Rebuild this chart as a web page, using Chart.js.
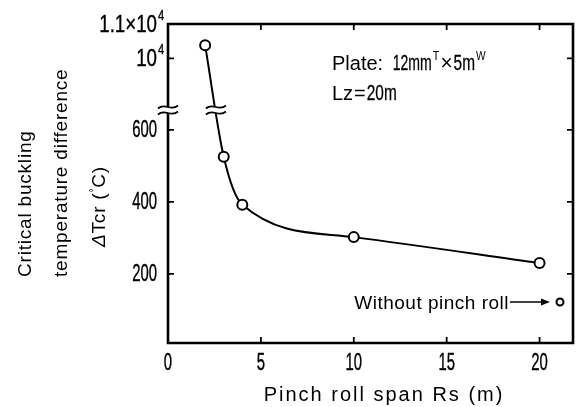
<!DOCTYPE html>
<html>
<head>
<meta charset="utf-8">
<script src="https://cdn.jsdelivr.net/npm/chart.js@4.4.1/dist/chart.umd.min.js"></script>
<style>
  html, body { margin: 0; background: #fff; }
  #wrap { width: 584px; height: 407px; }
</style>
</head>
<body>
<div id="wrap"><canvas id="chart"></canvas></div>
<script>
// pinch roll span (m) vs critical buckling temperature difference (°C)
const spanRs = [2, 3, 4, 10, 20];
const deltaTcr = [10380, 525, 392, 302, 230];
const noRollRs = [21.1];
const noRollTcr = [122];

const X_TICKS = [0, 5, 10, 15, 20];
const Y_TICKS = [200, 400, 600, 10000, 11000];
const Y_TICK_TEXT = ['200', '400', '600', '10', '1.1×10'];
const Y_TICK_EXP = ['', '', '', '4', '4'];

// the value axis is broken: a low band and a high band
const LOW_RANGE = [8, 655];
const HIGH_RANGE = [8500, 11000];
const LOW_SHARE = 0.7304;

const SANS = '"Liberation Sans", Arial, sans-serif';

class BrokenLinearScale extends Chart.LinearScale {
  splitPixel() {
    return this.bottom - LOW_SHARE * (this.bottom - this.top);
  }
  getPixelForValue(value) {
    const split = this.splitPixel();
    if (value <= LOW_RANGE[1]) {
      return this.bottom - (value - LOW_RANGE[0]) / (LOW_RANGE[1] - LOW_RANGE[0]) * (this.bottom - split);
    }
    if (value >= HIGH_RANGE[0]) {
      return split - (value - HIGH_RANGE[0]) / (HIGH_RANGE[1] - HIGH_RANGE[0]) * (split - this.top);
    }
    return split;
  }
  getValueForPixel(pixel) {
    const split = this.splitPixel();
    if (pixel >= split) {
      return LOW_RANGE[0] + (this.bottom - pixel) / (this.bottom - split) * (LOW_RANGE[1] - LOW_RANGE[0]);
    }
    return HIGH_RANGE[0] + (split - pixel) / (split - this.top) * (HIGH_RANGE[1] - HIGH_RANGE[0]);
  }
}
BrokenLinearScale.id = 'brokenLinear';
BrokenLinearScale.defaults = Chart.LinearScale.defaults;
Chart.register(BrokenLinearScale);

// squeezed text, the figure uses a narrow face for numbers
function narrowText(ctx, str, x, y, align, sx, heavy) {
  const w = ctx.measureText(str).width * sx;
  let left = x;
  if (align === 'right') left = x - w;
  else if (align === 'center') left = x - w / 2;
  ctx.save();
  ctx.translate(left, y);
  ctx.scale(sx, 1);
  ctx.textAlign = 'left';
  ctx.fillText(str, 0, 0);
  if (heavy) {
    ctx.lineWidth = heavy;
    ctx.strokeText(str, 0, 0);
  }
  ctx.restore();
  return left + w;
}

function drawBreak(ctx, x, y) {
  ctx.save();
  ctx.fillStyle = '#fff';
  ctx.fillRect(x - 10, y - 3, 20, 6);
  ctx.strokeStyle = '#000';
  ctx.lineWidth = 1.8;
  for (const dy of [-3, 3]) {
    const yy = y + dy;
    ctx.beginPath();
    ctx.moveTo(x - 10, yy + 1.5);
    ctx.bezierCurveTo(x - 3, yy - 5, x + 3, yy + 5, x + 10, yy - 1.5);
    ctx.stroke();
  }
  ctx.restore();
}

const NUM_FONT = '24px ' + SANS;
const NUM_SX = 0.62;
const NUM_HEAVY = 0.4;

const paperPlugin = {
  id: 'paper',
  beforeDatasetsDraw(chart) {
    const ctx = chart.ctx;
    const { left, right, top, bottom } = chart.chartArea;
    const xs = chart.scales.x;
    const ys = chart.scales.y;
    ctx.save();
    ctx.strokeStyle = '#000';
    ctx.fillStyle = '#000';
    ctx.lineWidth = 2.6;
    ctx.lineCap = 'square';
    ctx.beginPath();
    ctx.moveTo(left, top);
    ctx.lineTo(right, top);
    ctx.lineTo(right, bottom);
    ctx.lineTo(left, bottom);
    ctx.closePath();
    ctx.stroke();

    // inward ticks
    ctx.lineWidth = 1.8;
    ctx.lineCap = 'butt';
    ctx.beginPath();
    xs.ticks.forEach(t => {
      if (t.value === 0) return;
      const px = xs.getPixelForValue(t.value);
      ctx.moveTo(px, bottom);
      ctx.lineTo(px, bottom - 6);
      ctx.moveTo(px, top);
      ctx.lineTo(px, top + 6);
    });
    ys.ticks.forEach(t => {
      if (t.value === HIGH_RANGE[1]) return;
      const py = ys.getPixelForValue(t.value);
      ctx.moveTo(left, py);
      ctx.lineTo(left + 6, py);
      ctx.moveTo(right, py);
      ctx.lineTo(right - 6, py);
    });
    ctx.stroke();

    // tick labels
    ctx.font = NUM_FONT;
    ctx.textBaseline = 'middle';
    xs.ticks.forEach(t => {
      narrowText(ctx, String(t.value), xs.getPixelForValue(t.value), bottom + 20, 'center', NUM_SX, NUM_HEAVY);
    });
    ys.ticks.forEach((t, i) => {
      const py = ys.getPixelForValue(t.value);
      ctx.font = NUM_FONT;
      narrowText(ctx, Y_TICK_TEXT[i], left - 11, py + 1, 'right', Y_TICK_EXP[i] ? 0.78 : NUM_SX, NUM_HEAVY);
      if (Y_TICK_EXP[i]) {
        ctx.font = '14px ' + SANS;
        narrowText(ctx, Y_TICK_EXP[i], left - 10, py - 8, 'left', 0.8, 0.3);
      }
    });

    // axis titles
    ctx.font = '20px ' + SANS;
    ctx.letterSpacing = '2px';
    ctx.textAlign = 'center';
    ctx.textBaseline = 'alphabetic';
    ctx.fillText('Pinch roll span Rs (m)', 384, 401);

    ctx.font = '19px ' + SANS;
    ctx.letterSpacing = '0.8px';
    ctx.save();
    ctx.translate(0, 277);
    ctx.rotate(-Math.PI / 2);
    ctx.textAlign = 'left';
    ctx.fillText('Critical buckling', 0, 31);
    ctx.fillText('temperature difference', 0, 67);
    ctx.restore();

    ctx.save();
    ctx.translate(0, 200);
    ctx.rotate(-Math.PI / 2);
    ctx.textAlign = 'left';
    ctx.font = 'italic 19px ' + SANS;
    let x0 = -47;
    ctx.fillText('Δ', x0, 105);
    x0 += ctx.measureText('Δ').width;
    ctx.font = '19px ' + SANS;
    ctx.fillText('Tcr (', x0, 105);
    x0 += ctx.measureText('Tcr (').width;
    ctx.font = '10px ' + SANS;
    ctx.fillText('°', x0, 97);
    x0 += ctx.measureText('°').width;
    ctx.font = '19px ' + SANS;
    ctx.fillText('C)', x0, 105);
    ctx.restore();
    ctx.restore();
  },
  afterDatasetsDraw(chart) {
    const ctx = chart.ctx;
    const { left, top } = chart.chartArea;
    const ys = chart.scales.y;
    const split = ys.splitPixel();

    // break marks on the axis and on the curve
    drawBreak(ctx, left, split);
    const pts = chart.getDatasetMeta(0).data;
    const p0 = pts[0], p1 = pts[1];
    const t = (split - p0.y) / (p1.y - p0.y);
    drawBreak(ctx, p0.x + t * (p1.x - p0.x), split);

    ctx.save();
    ctx.fillStyle = '#000';
    ctx.strokeStyle = '#000';
    ctx.textBaseline = 'alphabetic';

    // specimen note
    let x = left + 164;
    const y1 = top + 46;
    ctx.font = '20px ' + SANS;
    ctx.fillText('Plate:', x, y1);
    x += ctx.measureText('Plate: ').width + 4;
    ctx.font = '22px ' + SANS;
    x = narrowText(ctx, '12mm', x, y1, 'left', 0.64, 0.3);
    ctx.font = '12px ' + SANS;
    x = narrowText(ctx, 'T', x + 1, y1 - 10, 'left', 0.9);
    ctx.font = '22px ' + SANS;
    x = narrowText(ctx, '×', x + 1, y1, 'left', 0.95);
    x = narrowText(ctx, '5m', x + 1, y1, 'left', 0.7, 0.3);
    ctx.font = '12px ' + SANS;
    narrowText(ctx, 'W', x + 1, y1 - 10, 'left', 0.85);

    x = left + 164;
    const y2 = top + 76;
    ctx.font = '20px ' + SANS;
    ctx.fillText('Lz', x, y2);
    x += ctx.measureText('Lz').width + 1;
    ctx.fillText('=', x, y2);
    x += ctx.measureText('=').width + 1;
    ctx.font = '22px ' + SANS;
    narrowText(ctx, '20m', x, y2, 'left', 0.7, 0.3);

    // label for the case without pinch roll
    const q = chart.getDatasetMeta(1).data[0];
    const ax1 = q.x - 10;
    const ax0 = q.x - 50;
    ctx.lineWidth = 1.5;
    ctx.beginPath();
    ctx.moveTo(ax0, q.y);
    ctx.lineTo(ax1 - 6, q.y);
    ctx.stroke();
    ctx.beginPath();
    ctx.moveTo(ax1, q.y);
    ctx.lineTo(ax1 - 9, q.y - 3.5);
    ctx.lineTo(ax1 - 9, q.y + 3.5);
    ctx.closePath();
    ctx.fill();
    ctx.font = '19px ' + SANS;
    ctx.letterSpacing = '0.5px';
    ctx.textAlign = 'right';
    ctx.fillText('Without pinch roll', ax0 - 1, q.y + 7);
    ctx.restore();
  }
};

new Chart(document.getElementById('chart'), {
  type: 'line',
  data: {
    datasets: [
      {
        data: spanRs.map((x, i) => ({ x, y: deltaTcr[i] })),
        borderColor: '#000',
        borderWidth: 2,
        cubicInterpolationMode: 'monotone',
        pointRadius: 5,
        pointBorderWidth: 2,
        pointBorderColor: '#000',
        pointBackgroundColor: '#fff'
      },
      {
        data: noRollRs.map((x, i) => ({ x, y: noRollTcr[i] })),
        showLine: false,
        pointRadius: 3.5,
        pointBorderWidth: 2,
        pointBorderColor: '#000',
        pointBackgroundColor: '#fff'
      }
    ]
  },
  options: {
    responsive: true,
    maintainAspectRatio: false,
    animation: false,
    layout: { padding: { top: 24, right: 11, left: 0, bottom: 0 } },
    plugins: { legend: { display: false }, tooltip: { enabled: false } },
    scales: {
      x: {
        type: 'linear',
        min: 0,
        max: 21.8,
        afterBuildTicks: s => { s.ticks = X_TICKS.map(v => ({ value: v })); },
        afterFit: s => { s.height = 64; },
        ticks: { display: false },
        grid: { display: false },
        border: { display: false }
      },
      y: {
        type: 'brokenLinear',
        min: LOW_RANGE[0],
        max: HIGH_RANGE[1],
        afterBuildTicks: s => { s.ticks = Y_TICKS.map(v => ({ value: v })); },
        afterFit: s => { s.width = 168; },
        ticks: { display: false },
        grid: { display: false },
        border: { display: false }
      }
    }
  },
  plugins: [paperPlugin]
});
</script>
</body>
</html>
